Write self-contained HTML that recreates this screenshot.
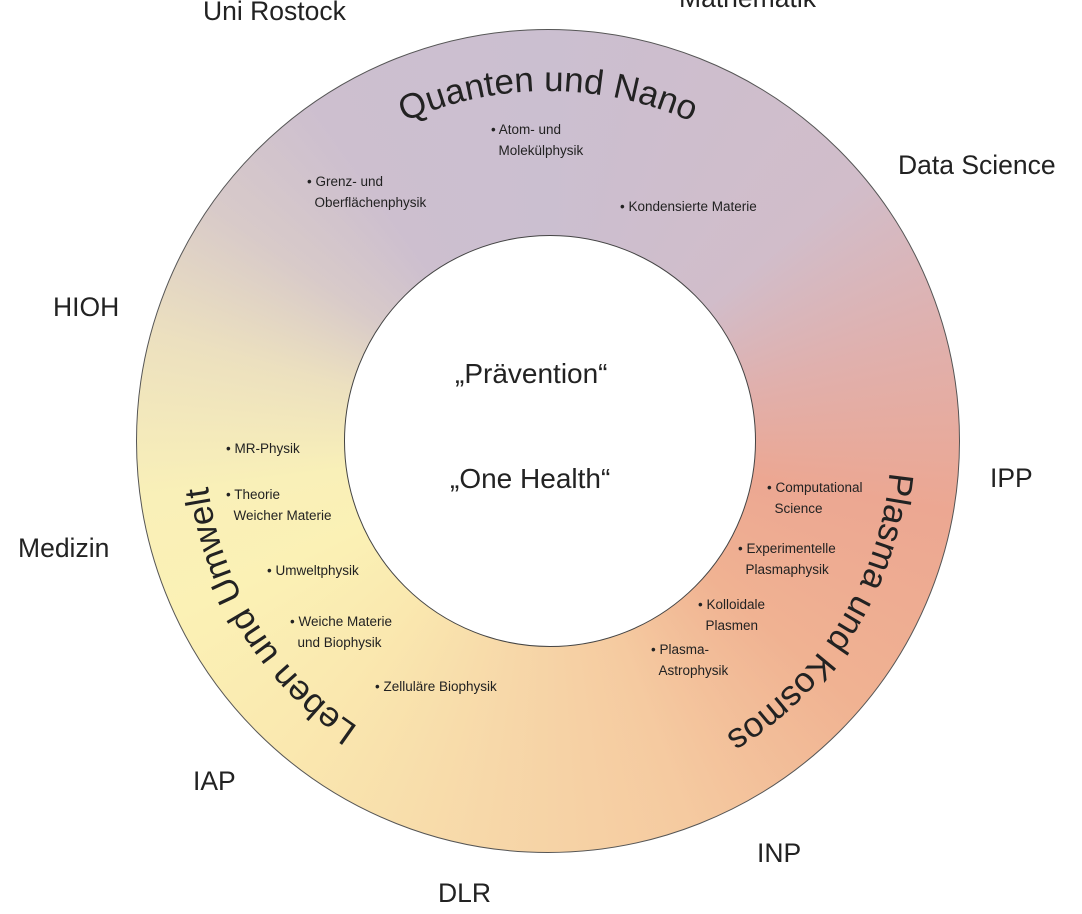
<!DOCTYPE html>
<html><head><meta charset="utf-8"><style>
html,body{margin:0;padding:0;background:#fff;width:1082px;height:914px;overflow:hidden}
.w{position:relative;width:1082px;height:914px}
.ring{position:absolute;left:136px;top:29px;width:824px;height:824px;border-radius:50%;
background:conic-gradient(from 0deg,#cbbfd0 0deg,#d1bdca 50deg,#e0b0ad 75deg,#eca792 100deg,#f0b292 130deg,#f5caa0 160deg,#f7d8a9 190deg,#fae8af 220deg,#fbf1b5 245deg,#f9f0b8 262deg,#ece0bf 285deg,#d8cac9 305deg,#cdbfcf 325deg,#cbbfd0 360deg);
border:1px solid #555;box-sizing:border-box}
.hole{position:absolute;left:344px;top:235px;width:412px;height:412px;border-radius:50%;background:#fff;border:1px solid #444;box-sizing:border-box}
.t{position:absolute;font-family:"Liberation Sans",sans-serif;color:#222;white-space:nowrap}
.o{font-size:26.5px}
.s{font-size:13.5px;line-height:21px}
.c{font-size:28px}
svg{position:absolute;left:0;top:0}
</style></head><body><div class="w">
<div class="ring"></div><div class="hole"></div>
<svg width="1082" height="914"><defs><path id="p" d="M 198,441 A 350 350 0 1 1 898,441 A 350 350 0 1 1 198,441"/><path id="q" d="M 205,441 A 343 343 0 1 1 891,441 A 343 343 0 1 1 205,441"/></defs>
<g font-family="Liberation Sans, sans-serif" font-size="35" fill="#222" text-anchor="middle">
<text><textPath href="#p" startOffset="25%">Quanten und Nano</textPath></text>
<text><textPath href="#q" startOffset="58.9%">Plasma und Kosmos</textPath></text>
<text><textPath href="#q" startOffset="91.1%">Leben und Umwelt</textPath></text>
</g></svg>
<div class="t o" style="left:203px;top:-4px">Uni Rostock</div>
<div class="t o" style="left:679px;top:-17px">Mathematik</div>
<div class="t o" style="left:898px;top:150px">Data Science</div>
<div class="t o" style="left:53px;top:292px">HIOH</div>
<div class="t o" style="left:990px;top:463px">IPP</div>
<div class="t o" style="left:18px;top:533px">Medizin</div>
<div class="t o" style="left:193px;top:766px">IAP</div>
<div class="t o" style="left:757px;top:838px">INP</div>
<div class="t o" style="left:438px;top:878px">DLR</div>
<div class="t c" style="left:455px;top:358px">„Prävention“</div>
<div class="t c" style="left:450px;top:463px">„One Health“</div>
<div class="t s" style="left:491px;top:119px">• Atom- und<br>&nbsp;&nbsp;Molekülphysik</div>
<div class="t s" style="left:307px;top:171px">• Grenz- und<br>&nbsp;&nbsp;Oberflächenphysik</div>
<div class="t s" style="left:620px;top:196px">• Kondensierte Materie</div>
<div class="t s" style="left:226px;top:438px">• MR-Physik</div>
<div class="t s" style="left:226px;top:484px">• Theorie<br>&nbsp;&nbsp;Weicher Materie</div>
<div class="t s" style="left:267px;top:560px">• Umweltphysik</div>
<div class="t s" style="left:290px;top:611px">• Weiche Materie<br>&nbsp;&nbsp;und Biophysik</div>
<div class="t s" style="left:375px;top:676px">• Zelluläre Biophysik</div>
<div class="t s" style="left:767px;top:477px">• Computational<br>&nbsp;&nbsp;Science</div>
<div class="t s" style="left:738px;top:538px">• Experimentelle<br>&nbsp;&nbsp;Plasmaphysik</div>
<div class="t s" style="left:698px;top:594px">• Kolloidale<br>&nbsp;&nbsp;Plasmen</div>
<div class="t s" style="left:651px;top:639px">• Plasma-<br>&nbsp;&nbsp;Astrophysik</div>
</div></body></html>
